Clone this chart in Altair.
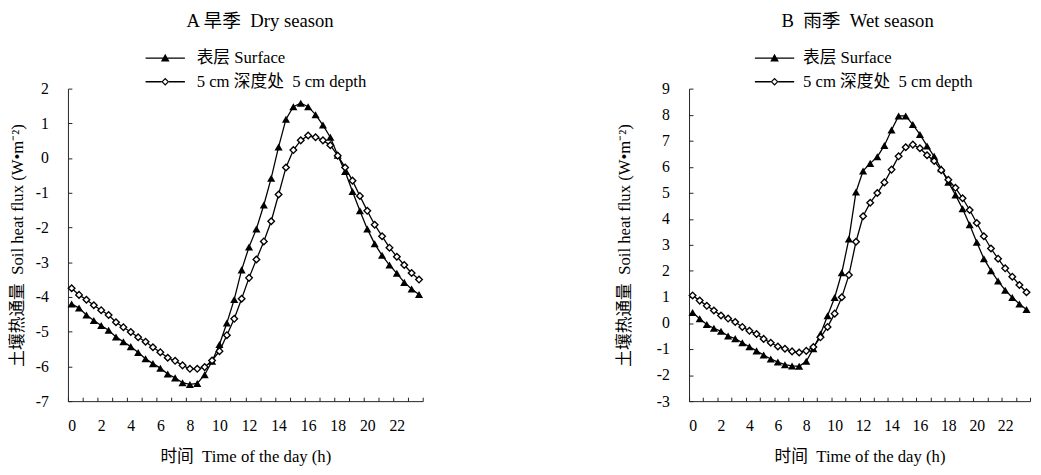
import altair as alt
import pandas as pd

FONT = "Liberation Serif, Noto Sans CJK SC"

hours = [0, 0.5, 1, 1.5, 2, 2.5, 3, 3.5, 4, 4.5, 5, 5.5, 6, 6.5, 7, 7.5, 8, 8.5,
         9, 9.5, 10, 10.5, 11, 11.5, 12, 12.5, 13, 13.5, 14, 14.5, 15, 15.5, 16, 16.5,
         17, 17.5, 18, 18.5, 19, 19.5, 20, 20.5, 21, 21.5, 22, 22.5, 23, 23.5]

S1 = "表层 Surface"
S2 = "5 cm 深度处\u00a0 5 cm depth"

dry_surface = [-4.20, -4.32, -4.52, -4.68, -4.82, -4.96, -5.15, -5.29, -5.43, -5.60,
               -5.78, -5.92, -6.05, -6.22, -6.33, -6.47, -6.52, -6.49, -6.24, -5.85,
               -5.37, -4.75, -4.07, -3.22, -2.56, -2.04, -1.35, -0.58, 0.32, 1.12,
               1.48, 1.58, 1.48, 1.25, 0.95, 0.60,
               0.08, -0.39, -0.96, -1.52, -2.04, -2.47, -2.80, -3.08, -3.32, -3.58, -3.77, -3.93]
dry_5cm = [-3.75, -3.94, -4.08, -4.24, -4.38, -4.52, -4.73, -4.87, -5.01, -5.16,
           -5.29, -5.45, -5.59, -5.75, -5.84, -5.97, -6.07, -6.07, -6.02, -5.83,
           -5.56, -5.10, -4.63, -4.05, -3.45, -2.92, -2.40, -1.82, -1.05, -0.27,
           0.23, 0.51, 0.65, 0.60, 0.51, 0.37,
           0.07, -0.27, -0.65, -1.09, -1.52, -1.92, -2.25, -2.58, -2.84, -3.08, -3.31, -3.50]
wet_surface = [0.40, 0.16, -0.06, -0.20, -0.32, -0.50, -0.60, -0.76, -0.91, -1.07,
               -1.23, -1.38, -1.50, -1.60, -1.65, -1.66, -1.47, -0.99, -0.42, 0.28,
               0.98, 1.93, 3.23, 5.03, 5.84, 6.13, 6.38, 6.82, 7.41, 7.95,
               7.95, 7.62, 7.24, 6.80, 6.40, 5.92,
               5.41, 4.92, 4.39, 3.77, 3.10, 2.47, 2.01, 1.61, 1.26, 0.98, 0.73, 0.52]
wet_5cm = [1.06, 0.86, 0.66, 0.48, 0.29, 0.17, 0.04, -0.15, -0.30, -0.42,
           -0.61, -0.76, -0.90, -0.99, -1.09, -1.13, -1.07, -0.92, -0.55, -0.15,
           0.36, 0.99, 1.84, 3.12, 4.10, 4.62, 4.99, 5.40, 5.89, 6.40,
           6.75, 6.85, 6.71, 6.44, 6.22, 5.87,
           5.50, 5.19, 4.79, 4.34, 3.84, 3.33, 2.86, 2.47, 2.10, 1.78, 1.46, 1.18]

x_labels = [0, 2, 4, 6, 8, 10, 12, 14, 16, 18, 20, 22]
x_ticks = [-0.25, 0.75, 1.75, 2.75, 3.75, 4.75, 5.75, 6.75, 7.75, 8.75, 9.75, 10.75,
           11.75, 12.75, 13.75, 14.75, 15.75, 16.75, 17.75, 18.75, 19.75, 20.75,
           21.75, 22.75, 23.75]
dry_y = [-7, -6, -5, -4, -3, -2, -1, 0, 1, 2]
wet_y = [-3, -2, -1, 0, 1, 2, 3, 4, 5, 6, 7, 8, 9]

X_TITLE = "时间\u00a0 Time of the day (h)"
Y_TITLE = "土壤热通量\u00a0 Soil heat flux (W•m⁻²)"

# legend glyphs: filled-only paths (line drawn as a thin bar, open diamond as a ring)
TRI_PATH = ("M-1,-0.035H1V0.035H-1Z"
            "M0,-0.22L0.22,0.17L-0.22,0.17Z")
DIA_PATH = ("M-1,-0.035H-0.19V0.035H-1Z"
            "M0.19,-0.035H1V0.035H0.19Z"
            "M0,-0.2L0.2,0L0,0.2L-0.2,0Z"
            "M0,-0.12L-0.12,0L0,0.12L0.12,0Z")

H = 318
AXC = "#222222"
HYPHEN = "datum.value < 0 ? '-' + abs(datum.value) : '' + datum.value"


def make_df(s, d):
    return pd.DataFrame({
        "hour": hours + hours,
        "value": s + d,
        "series": [S1] * len(hours) + [S2] * len(hours),
    })


def legend_layer(base, field, label, path, legx, legy, loff):
    leg = alt.Legend(orient="none", legendX=legx, legendY=legy, title=None,
                     symbolSize=1600, labelLimit=600,
                     labelFont=FONT, labelFontSize=17, labelOffset=loff,
                     labelColor="black", symbolFillColor="black",
                     symbolStrokeWidth=0, symbolOpacity=1, padding=0)
    return base.transform_filter("false").transform_calculate(
        **{field: "'x'"}
    ).mark_point(filled=True, color="black", opacity=1).encode(
        shape=alt.Shape(f"{field}:N", scale=alt.Scale(domain=[label], range=[path]), legend=leg)
    )


def panel(df, title, dx, ydom, yvals, W, legx, loff, ytpad):
    xs = alt.Scale(domain=[-0.25, 23.75], nice=False, zero=False)
    ys = alt.Scale(domain=ydom, nice=False, zero=False)
    base = alt.Chart(df)
    line = base.mark_line(color="black", strokeWidth=1.3).encode(
        x=alt.X("hour:Q", scale=xs, axis=alt.Axis(
            values=x_labels, ticks=False, grid=False, title=X_TITLE,
            labelPadding=17, titlePadding=15, domainColor=AXC)),
        y=alt.Y("value:Q", scale=ys, axis=alt.Axis(
            values=yvals, ticks=False, grid=False, title=Y_TITLE, labelExpr=HYPHEN,
            labelPadding=20, titlePadding=ytpad, domainColor=AXC)),
        detail="series:N",
    )
    tri = base.transform_filter(alt.datum.series == S1).mark_point(
        shape="triangle-up", filled=True, color="black", size=68, opacity=1
    ).encode(x=alt.X("hour:Q", scale=xs, axis=None),
             y=alt.Y("value:Q", scale=ys, axis=None))
    dia = base.transform_filter(alt.datum.series == S2).mark_point(
        shape="diamond", filled=True, fill="white", stroke="black",
        strokeWidth=1.4, size=45, opacity=1
    ).encode(x=alt.X("hour:Q", scale=xs, axis=None),
             y=alt.Y("value:Q", scale=ys, axis=None))
    tick = base.mark_point(opacity=0).encode(
        x=alt.X("hour:Q", scale=xs, axis=alt.Axis(
            orient="top", offset=-H, values=x_ticks, labels=False, domain=False,
            ticks=True, tickSize=4, tickColor=AXC, grid=False, title=None)),
        y=alt.Y("value:Q", scale=ys, axis=alt.Axis(
            orient="right", offset=-W, values=yvals, labels=False, domain=False,
            ticks=True, tickSize=4, tickColor=AXC, grid=False, title=None)),
    )
    l1 = legend_layer(base, "leg1", S1, TRI_PATH, legx, -51, loff)
    l2 = legend_layer(base, "leg2", S2, DIA_PATH, legx, -27, loff)
    return alt.layer(line, tri, dia, tick, l1, l2).resolve_axis(
        x="independent", y="independent"
    ).resolve_scale(shape="independent").resolve_legend(shape="independent").properties(
        width=W, height=H,
        title=alt.TitleParams(title, dx=dx, fontSize=19, font=FONT, fontWeight="normal",
                              anchor="middle", offset=8, color="black"),
    )


pA = panel(make_df(dry_surface, dry_5cm), "A 旱季\u00a0 Dry season", 15, [-7, 2], dry_y, 361, 79, 12, 9)
pB = panel(make_df(wet_surface, wet_5cm), "B\u00a0 雨季\u00a0 Wet season", -2, [-3, 9], wet_y, 347, 67, 9, 23)

chart = alt.hconcat(pA, pB, spacing=193).resolve_scale(
    shape="independent"
).resolve_legend(shape="independent").properties(
    padding={"left": 0, "top": 0, "right": 0, "bottom": 0},
    background="white",
).configure_view(stroke=None).configure_axis(
    labelFont=FONT, titleFont=FONT, labelFontSize=16, titleFontSize=17,
    labelColor="black", titleColor="black", titleFontWeight="normal",
    titleLimit=1000, domainWidth=1
)

chart.save("out.html", embed_options={"renderer": "svg", "actions": False})
